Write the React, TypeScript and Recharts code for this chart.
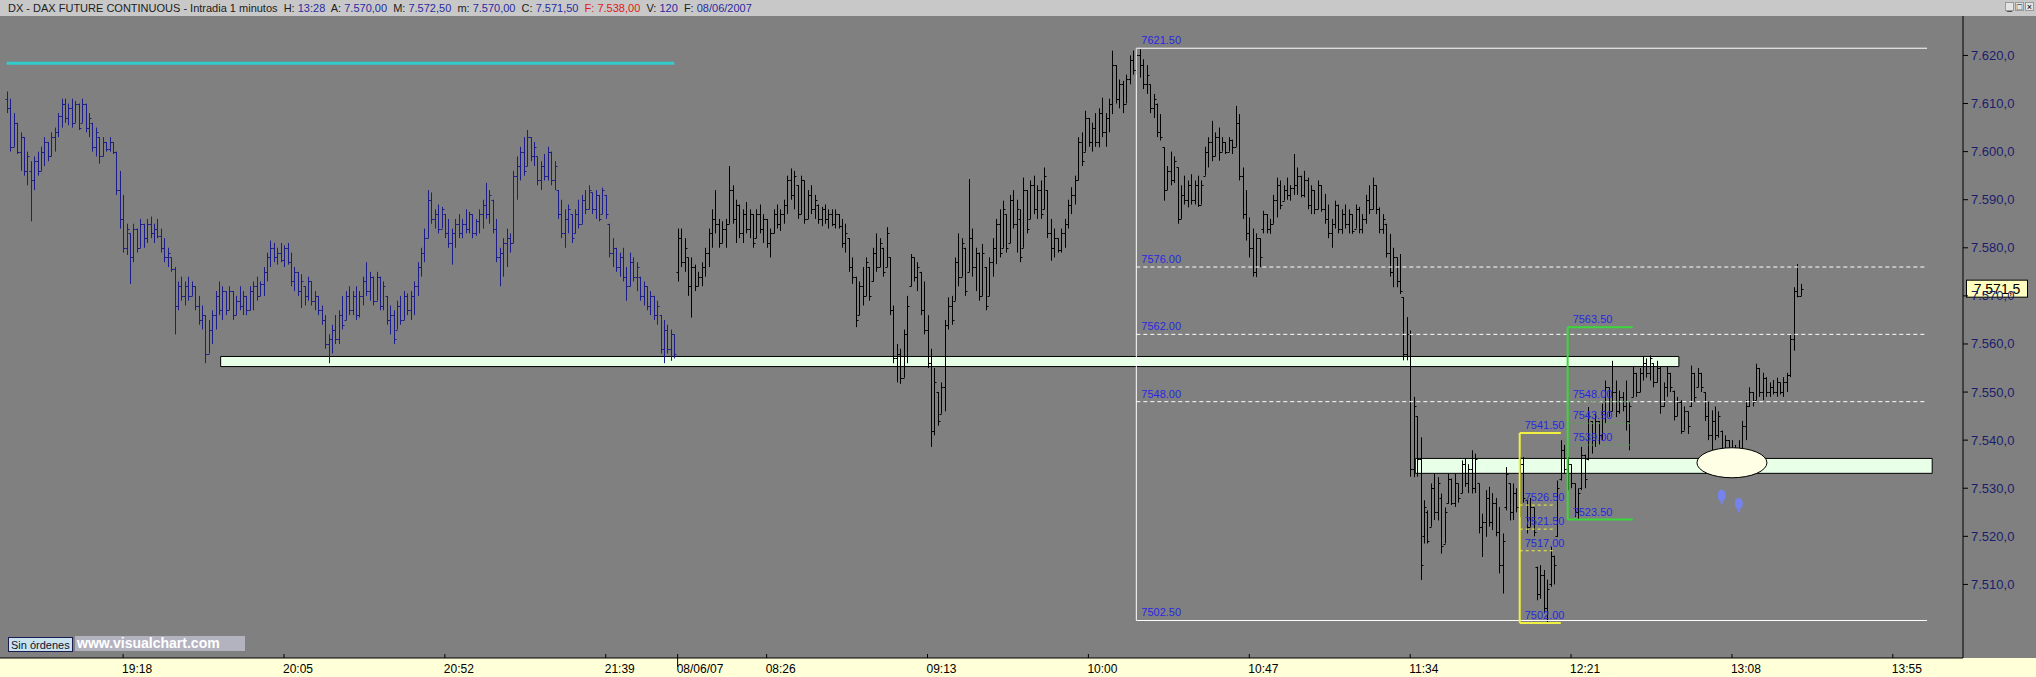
import React from 'react';
import {
  ComposedChart,
  Bar,
  XAxis,
  YAxis,
  ReferenceLine,
  ReferenceArea,
  ReferenceDot,
} from 'recharts';

type Ohlc = [number, number, number, number];

// 1-minute DAX future bars, points above BASE: [open, high, low, close]
const BASE = 7500;

// 07/06/07 evening session, first bar 18:44
const eveningStart = '18:44';
const eveningBars: Ohlc[] = [
  [111, 112.5, 108, 109], [109, 111, 100, 101], [101, 108, 101, 106], [106, 106, 99.5, 100], [100, 104, 96, 103],
  [103, 103, 95, 96], [96, 100, 93, 99], [96, 98, 85.5, 94], [94, 99, 92, 98], [98, 100, 95, 96],
  [96, 101, 96, 100], [100, 103, 97, 102], [102, 102, 98, 99], [99, 104, 99, 103], [103, 105, 100, 104],
  [104, 108, 103, 107.5], [107.5, 111, 105, 110], [110, 111, 106, 107], [107, 110, 105.5, 109], [109, 111, 105, 106],
  [106, 110.5, 106, 110], [110, 110, 104.5, 105], [106, 111, 106, 110], [110, 110, 104, 105], [105, 108, 103, 107],
  [106, 106, 100, 101], [101, 105, 99, 104], [103, 103, 97.5, 99], [99, 103, 99, 102], [102, 102, 100, 100.5],
  [100.5, 103, 100, 102], [102, 102, 99.5, 100], [100, 100, 91, 92], [92, 96, 84, 86], [86, 91, 79, 80],
  [80, 85, 78.5, 84], [83, 83, 72.5, 78], [78, 85, 77, 84], [84, 84, 79, 80], [80, 86, 80, 85],
  [85, 85, 80, 82], [82, 86, 81, 85], [85, 86.5, 82, 83], [83, 85, 81, 84], [84, 86, 82, 82.5],
  [82.5, 84, 79, 80], [80, 82, 77, 78], [78, 80, 76, 79], [78, 78, 75, 75.5], [75.5, 76, 62, 68],
  [68, 73, 67, 72], [72, 74, 69, 70], [70, 73, 68, 72], [72, 74, 69, 70], [70, 73, 70, 72],
  [72, 72, 67, 68], [68, 70, 64, 65], [65, 68, 63, 66], [66, 66, 56, 58], [58, 65, 58, 63],
  [63, 67, 60, 66], [66, 71, 63, 70], [70, 73, 66, 67], [67, 72, 65, 71], [71, 71, 66, 67],
  [67, 72, 67, 71], [71, 71, 65, 66], [66, 70, 66, 69], [69, 72, 67, 68], [68, 71, 66, 70],
  [70, 70, 66, 67], [67, 72, 67, 71], [71, 73, 67, 72], [72, 74, 69, 70], [70, 73, 70, 72.5],
  [72.5, 76, 70, 75], [75, 79, 73, 78], [78, 81.5, 76, 80], [80, 81, 77, 78], [78, 80, 76.5, 79],
  [79, 81, 77, 77.5], [77.5, 80.5, 76, 80], [80, 81, 76.5, 77], [77, 79, 72, 73], [73, 76, 71, 75],
  [75, 75, 70, 71], [71, 74.5, 67.5, 73], [72, 72, 68, 70], [70, 74, 69, 73], [73, 73, 68, 69],
  [69, 71, 67, 70], [70, 70, 66, 67], [67, 68, 64, 65], [65, 66, 59, 60], [60, 62, 56, 61],
  [61, 64, 58, 63], [63, 66, 60, 61], [61, 67, 60, 66], [66, 70, 63, 64], [65, 71, 65, 70],
  [70, 72, 66, 67], [67, 71, 66, 70], [70, 72, 65, 66], [66, 71, 65.5, 70], [70, 74, 68, 73],
  [73, 77, 70, 71], [71, 75, 69, 74], [74, 74, 68, 69], [69, 75, 69, 74], [74, 74, 67, 68],
  [68, 73, 67, 72], [70, 70, 64, 65], [65, 68, 62, 66], [66, 67, 60, 61], [63, 69, 63, 68],
  [68, 70, 64, 65], [65, 71, 65, 70], [70, 70.5, 66, 67], [67, 71, 65, 70], [70, 73, 66, 72],
  [72, 77, 70, 76], [76, 80, 74, 79], [79, 84, 77, 82], [82, 92, 82, 90], [90, 91.5, 85, 86],
  [86, 88, 84, 87], [87, 89, 83, 84], [84, 88.5, 84, 88], [87, 87, 82, 83], [83, 86, 80, 81],
  [81, 84, 76.5, 83], [83, 86, 80, 85], [85, 87, 82, 83], [83, 86, 82, 85], [85, 88, 83, 84],
  [84, 87.5, 83, 87], [87, 87, 82, 83], [83, 86, 82.5, 85.5], [85.5, 88, 83, 87], [87, 90, 84, 89],
  [89, 93.5, 86, 87], [87, 92, 85, 91], [90, 90, 83, 84], [84, 86, 77, 78], [78, 80, 72, 79],
  [79, 82, 74, 81], [81, 84, 76, 82], [82, 83, 79, 81], [81, 96, 81, 95], [95, 99, 90, 97],
  [97, 101, 94, 100], [100, 103, 95, 96], [97, 104.5, 97, 103], [103, 103, 98, 99], [99, 102, 97, 101],
  [99, 99, 93, 94], [94, 98, 92, 97], [97, 99.5, 94, 95], [95, 101, 94, 100], [100, 100, 93, 94],
  [94, 98, 92, 97], [92, 92, 86, 87], [87, 90, 82, 83], [83, 88, 80, 86], [86, 89, 83, 88],
  [87, 87, 81, 82], [83, 88, 83, 87], [87, 90, 84, 85], [85, 91, 85, 90], [90, 92, 87, 88],
  [88, 93, 88, 92], [91.5, 91.5, 87, 88], [88, 92, 86, 91], [91, 91, 85.5, 86], [87, 92.5, 87, 92],
  [91, 91, 86, 87], [85, 85, 78, 79], [79, 82, 76, 80], [80, 80, 75, 76], [76, 79, 74, 78],
  [78, 80, 73, 74], [74, 76, 69, 72], [72, 79, 72, 77], [77, 78, 73, 74], [74, 77, 71, 76],
  [74, 74, 69, 70], [70, 73, 68, 72], [72, 72, 67, 68], [68, 71, 66, 70], [70, 70, 65, 66],
  [66, 69, 64, 68], [66, 66, 58, 59], [59, 65, 56, 63], [63, 64, 58, 59], [59, 63, 56.5, 62],
  [62, 62, 57, 58],
];

// 08/06/07 day session, first bar 08:00, last 13:28
const morningStart = '08:00';
const morningBars: Ohlc[] = [
  [75, 84, 73, 82], [82, 84, 76, 77], [77, 82, 75, 80], [78, 78, 70, 72], [72, 78, 65.5, 76],
  [76, 76.5, 71, 72], [72, 75, 72, 74], [74, 77, 72, 76], [76, 80, 74, 79], [79, 84, 76, 83],
  [83, 88, 80, 86], [86, 92, 83, 85], [85, 86, 80, 81], [81, 85.5, 81, 84], [84, 86, 80, 85],
  [85, 97, 85, 92], [92, 93, 85, 86], [86, 90, 81, 89], [89, 89, 82, 83], [83, 88, 81, 87],
  [87, 89.5, 83, 84], [84, 88, 82, 87], [87, 87, 80, 81], [82, 88, 82, 87], [87, 89, 83, 84],
  [84, 87, 81, 86], [86, 86, 80, 81], [81, 84, 78, 83], [83, 88, 83, 87], [87, 89, 84, 85],
  [85, 88, 83.5, 87], [87, 90, 85, 89], [89, 95, 87, 94], [94, 96.5, 90, 91], [91, 96, 88, 95],
  [93, 93, 86, 87], [87, 95, 87, 94], [94, 94, 85, 86], [86, 92, 86, 91], [91, 93, 87, 88],
  [88, 91, 86, 90], [89, 89, 85, 86], [86, 88.5, 84.5, 88], [88, 89, 85, 86], [86, 88, 84, 87],
  [87, 88, 84.5, 85], [85, 88, 84, 87], [87, 87, 84, 84.5], [84.5, 86, 80, 81], [81, 85, 79, 83],
  [82, 82, 75, 76], [76, 78, 72.5, 74], [74, 74, 63.5, 65], [66, 73, 66, 72], [72, 76, 68, 70],
  [70, 78, 70, 77], [76, 76, 69, 70], [73, 80, 73, 79], [79, 83, 75, 76], [76, 82, 76, 81],
  [80, 80, 74, 75], [76, 84.3, 76, 83], [78, 78, 66, 67], [67, 68, 56, 57], [57, 60, 52, 58],
  [58, 59, 51.7, 53], [53, 63, 53, 62], [62, 70, 56, 68], [72, 78.7, 72, 78], [78, 78, 73, 74],
  [74, 77, 71, 76], [75, 75, 66, 67], [67, 73, 62, 63], [63, 66, 55, 56], [56, 59, 38.6, 42],
  [42, 55, 41, 52], [50, 50, 43, 44], [45.5, 52, 45.5, 51], [51, 65, 46, 64], [64, 69.7, 63, 68],
  [68, 70, 64, 65], [69, 78, 69, 77], [77, 83, 72, 74], [74, 82, 74, 81], [80, 80, 70, 71],
  [75, 94.3, 75, 82], [82, 84, 74, 76], [76, 80, 71, 79], [79, 79, 69, 70], [70, 80.8, 70, 79],
  [76, 76, 67, 68], [70, 78, 70, 77], [77, 82, 74, 80], [80, 86, 76.6, 85], [85, 88, 78, 79],
  [80, 89.8, 80, 88], [87, 87, 79, 80], [81, 91, 81, 90], [90, 92, 84, 85], [85, 90, 79, 88],
  [86, 88, 77, 78], [80, 94.6, 80, 92], [92, 92, 83, 84], [86, 94, 86, 93], [93, 95, 87, 88],
  [88, 93, 86, 92], [92, 94, 86, 87], [88, 96.7, 88, 95], [92, 92, 82, 83], [83, 86, 77.3, 80],
  [80, 84, 78, 82], [82, 82, 79, 79.5], [79.5, 84, 79, 83], [83, 86, 80, 85], [85, 90, 84, 89],
  [89, 92.6, 87, 91], [91, 95, 89, 94], [94, 103, 94, 102], [102, 104, 97, 98], [100, 108.5, 100, 107],
  [107, 107, 101, 102], [102, 106, 100, 105], [105, 108, 101, 102], [102, 109, 100.9, 108], [108, 111.2, 103, 104],
  [104, 108, 101, 107], [107, 111, 104, 110], [110, 121, 107.8, 118], [118, 118, 110, 111], [111, 115, 109, 114],
  [114, 114.7, 108, 110], [110, 116, 110, 115], [115, 120, 114, 119], [119, 121, 116, 117], [117, 121.5, 116, 120],
  [120, 121.3, 115.4, 118], [118, 119.2, 113, 114], [114, 118, 112, 116], [114, 114, 108, 109], [109, 112, 107, 111],
  [110, 110, 103, 104], [104, 107.8, 102.3, 103], [100.9, 100.9, 89.8, 92], [92, 97, 92, 96], [96, 100, 93, 94],
  [94, 99, 93.5, 98], [96.7, 96.7, 85, 86], [86, 93, 86, 91], [91, 95, 89, 90], [90, 94, 88.4, 93],
  [93, 95.3, 89, 90], [90, 94, 89, 93], [93, 95, 88.5, 89], [89, 94, 89, 93], [95, 101, 95, 100],
  [100, 103, 96.7, 102], [102, 106.4, 98, 99], [99, 104, 99, 103], [103, 105, 98.1, 100], [100, 103, 100, 102],
  [102, 102, 99.5, 100], [100, 103, 100, 102.5], [102.5, 102.5, 99.5, 101], [101, 109.5, 101, 106], [106, 107.8, 94, 95],
  [95, 96.7, 86, 87], [87, 92, 81.5, 83], [83, 86.3, 78, 80], [80, 84, 74, 75], [75, 83, 73.9, 82],
  [82, 82, 76, 78], [84, 87.7, 83, 87], [87, 87, 83, 84], [84, 86, 82.9, 85], [85, 91, 85, 90],
  [90, 94.6, 86.3, 93], [93, 94, 88, 89], [89.8, 93, 89.8, 92], [92, 94.6, 90, 91], [91, 93, 89.8, 92.5],
  [92.5, 99.5, 91, 93], [93, 96.7, 91, 95], [95, 95, 90.5, 91], [91, 96, 90.5, 94], [94, 94.6, 88, 89],
  [89, 93, 87, 92], [92, 92, 87, 88], [88, 94, 88, 93], [93, 93, 87.5, 88], [88, 91.2, 85, 86],
  [86, 89, 82, 83], [83, 86, 80, 85], [85, 89.8, 84, 89], [89, 89, 83, 84], [84, 88, 82.9, 87],
  [87, 89, 84, 85], [85, 88, 83, 87], [87, 87, 82.9, 83.5], [84, 89, 84, 88], [88, 88.5, 83, 84],
  [84, 87, 83, 86], [86, 91, 85, 90], [90, 93, 87, 88], [88, 94.6, 88, 93], [93, 93, 87, 88],
  [88, 88.4, 83, 84], [84, 87, 82.9, 86], [85, 85, 78, 79], [79, 82.9, 74, 75], [75, 80, 71.8, 78],
  [78, 78, 71.8, 73], [73, 78.7, 70.4, 71], [69.7, 69.7, 56.6, 58], [58, 65.6, 56.6, 62], [62, 62.8, 32.4, 34],
  [34, 49, 32.3, 47], [45, 45, 32.4, 36], [36, 40.6, 10.9, 14], [20, 27.5, 18.5, 26], [25, 25.4, 18.5, 19],
  [22, 31, 22, 30], [30, 33, 23.4, 25], [25, 32.3, 23.3, 31], [28, 28.9, 16.4, 18], [18.5, 26, 18.5, 25],
  [27, 33, 26.8, 32], [32, 32, 26.5, 27], [27, 33, 26.1, 31], [31, 31, 27, 28], [29, 35.8, 29, 35],
  [35, 36.2, 30.3, 31], [31, 35, 29, 34], [34, 37.9, 28.9, 30], [30, 37.2, 29, 36], [31, 31, 20.6, 22],
  [22, 24.7, 15.7, 23], [23, 29.6, 19.9, 28], [28, 30.3, 22, 23], [23, 29, 21.3, 27], [27, 28, 20, 21],
  [21, 26.1, 12.3, 14], [14, 20.6, 8.1, 19], [26, 34.4, 25.4, 33], [31, 31, 23.3, 25], [25, 31, 23.4, 29],
  [29, 30, 25, 26], [26, 36.5, 24, 35], [35, 36.5, 27, 28], [27.5, 27.5, 20.6, 22], [22, 28, 22, 26],
  [26, 26, 20, 21], [13.7, 13.7, 6.7, 8], [8, 14, 7, 12], [12, 13, 4, 5], [5, 11, 2, 9],
  [10, 17.8, 9.5, 16], [16, 16, 10, 14], [20, 31.6, 19.9, 30], [32, 40, 31.6, 38], [38, 39, 33, 34],
  [34, 36.5, 29.6, 35], [35, 35, 30, 31], [31, 31, 24, 25], [25, 30, 23.5, 29], [30, 38.6, 29.6, 37],
  [37, 37, 30, 32], [36, 46.9, 35.8, 45], [44, 44, 37.2, 40], [40, 45.5, 38.6, 44], [44, 44, 39, 41],
  [41, 47.6, 40, 46], [46, 52.4, 43.4, 51], [51, 51, 44.8, 46], [46, 56.5, 46, 50], [50, 52.4, 44.8, 46],
  [46, 50.3, 45.5, 49], [49, 50, 46, 47], [47, 52.4, 42, 44], [44, 48, 37.9, 47], [49, 55.2, 49, 54],
  [54, 54, 49, 50], [50, 55, 50, 54], [54, 57.3, 52.4, 56], [56, 57, 53, 54], [54, 57.6, 52.4, 57],
  [56, 56, 51, 52], [52, 56.5, 52, 55], [55, 55.2, 45.5, 47], [47, 52, 47, 51], [51, 55.2, 49, 54],
  [54, 54, 50, 51], [50.3, 50.3, 44.1, 45], [45, 49, 45, 48], [48, 48.3, 41.3, 42], [42, 47, 42, 46],
  [46, 46, 41.3, 43], [47, 55.5, 46.9, 54], [54, 54, 48, 49], [51, 55, 51, 54], [54, 54, 50, 51],
  [50, 50, 44, 45], [45, 48, 40, 41], [41, 46.2, 37.9, 44], [44, 47, 40, 41], [41, 46, 40.5, 45],
  [42, 42, 37.2, 38], [38, 41, 37.5, 40], [40, 40, 36.5, 37], [37, 40, 33, 34], [34, 39, 33, 38],
  [38, 40, 34.5, 36], [36, 44, 36, 43], [43, 48.3, 40, 47], [47, 51, 46.9, 50], [50, 50, 47, 48],
  [48.3, 55.9, 48.3, 55], [55, 55, 49, 50], [50, 54, 48.3, 53], [53, 53.1, 49, 50], [50, 52, 49, 51],
  [51, 52.5, 49.5, 50], [50, 53, 49, 52], [52, 52, 49.5, 50], [50, 53.1, 49, 52], [52, 54, 50, 53.5],
  [53.5, 62.1, 53.1, 61], [61, 71.8, 58.6, 71], [71, 76.6, 69.7, 70], [70, 72.5, 70, 71.5],
];

// empty minutes kept on the right of the last bar
const emptyMinutes = 47;

const xTickTimes = ['19:18', '20:05', '20:52', '21:39', '08:00', '08:26', '09:13', '10:00', '10:47', '11:34', '12:21', '13:08', '13:55'];
const xTickLabels = ['19:18', '20:05', '20:52', '21:39', '08/06/07', '08:26', '09:13', '10:00', '10:47', '11:34', '12:21', '13:08', '13:55'];
const yTicks = [7510, 7520, 7530, 7540, 7550, 7560, 7570, 7580, 7590, 7600, 7610, 7620];
const lastPrice = 7571.5;

// drawn studies
const whiteFib = { from: '10:14', to: '14:05', levels: [7621.5, 7576, 7562, 7548, 7502.5], labels: ['7621.50', '7576.00', '7562.00', '7548.00', '7502.50'] };
const yellowFib = { from: '12:06', to: '12:18', dashTo: '12:16', levels: [7541.5, 7526.5, 7521.5, 7517, 7502], labels: ['7541.50', '7526.50', '7521.50', '7517.00', '7502.00'] };
const greenFib = { from: '12:20', to: '12:39', levels: [7563.5, 7548, 7543.5, 7539, 7523.5], labels: ['7563.50', '7548.00', '7543.50', '7539.00', '7523.50'] };
const zones = [
  { x1: '19:47', x2: '12:52', y1: 7555.3, y2: 7557.4 },
  { x1: '11:36', x2: '14:06', y1: 7533.1, y2: 7536.2 },
];
const cyanLine = { from: '18:44', to: '21:59', y: 7618.4 };
const ellipseMark = { x: '13:08', y: 7535.3 };
const blueMarks = [
  { x: '13:05', y: 7528.5 },
  { x: '13:10', y: 7526.8 },
];

const headerParts: [string, string][] = [
  ['DX - DAX FUTURE CONTINUOUS - Intradia 1 minutos  H: ', '#202020'],
  ['13:28', '#2a2aa0'],
  ['  A: ', '#202020'],
  ['7.570,00', '#2a2aa0'],
  ['  M: ', '#202020'],
  ['7.572,50', '#2a2aa0'],
  ['  m: ', '#202020'],
  ['7.570,00', '#2a2aa0'],
  ['  C: ', '#202020'],
  ['7.571,50', '#2a2aa0'],
  ['  F: ', '#e01818'],
  ['7.538,00', '#e01818'],
  ['  V: ', '#202020'],
  ['120', '#2a2aa0'],
  ['  F: ', '#202020'],
  ['08/06/2007', '#2a2aa0'],
];

const toMin = (s: string) => parseInt(s.slice(0, 2), 10) * 60 + parseInt(s.slice(3), 10);
const hhmm = (m: number) => `${String(Math.floor(m / 60) % 24).padStart(2, '0')}:${String(m % 60).padStart(2, '0')}`;

const rows: any[] = [];
eveningBars.forEach(([o, h, l, c], i) => {
  rows.push({ t: hhmm(toMin(eveningStart) + i), o: BASE + o, h: BASE + h, l: BASE + l, c: BASE + c, s: 'eve' });
});
morningBars.forEach(([o, h, l, c], i) => {
  rows.push({ t: hhmm(toMin(morningStart) + i), o: BASE + o, h: BASE + h, l: BASE + l, c: BASE + c, s: 'day' });
});
for (let k = 0; k < emptyMinutes; k++) {
  rows.push({ t: hhmm(toMin(morningStart) + morningBars.length + k) });
}

const fmtPrice = (v: number, dec: number) => {
  const [int, frac] = v.toFixed(dec).split('.');
  return `${int.slice(0, -3)}.${int.slice(-3)},${frac}`;
};

const OhlcBar = (props: any) => {
  const { x, y, width, height, payload } = props;
  if (!payload || payload.h == null) return null;
  const top = Math.min(y, y + height);
  const bot = Math.max(y, y + height);
  const span = payload.h - payload.l;
  const py = (v: number) => Math.round(span === 0 ? top : top + ((payload.h - v) / span) * (bot - top)) + 0.5;
  const cx = Math.round(x + width / 2) + 0.5;
  const color = payload.s === 'eve' ? '#1c1c8a' : '#000000';
  return (
    <g stroke={color} strokeWidth={1}>
      <line x1={cx} x2={cx} y1={top} y2={Math.max(bot, top + 1)} />
      <line x1={cx - 2} x2={cx} y1={py(payload.o)} y2={py(payload.o)} />
      <line x1={cx} x2={cx + 2} y1={py(payload.c)} y2={py(payload.c)} />
    </g>
  );
};

const XTick = (props: any) => {
  const { x, y, payload } = props;
  const idx = xTickTimes.indexOf(payload.value);
  const label = idx >= 0 ? xTickLabels[idx] : payload.value;
  const isDay = label.includes('/');
  return (
    <g>
      <line x1={x} x2={x} y1={y - 4} y2={isDay ? y + 9 : y} stroke="#000" />
      <text x={x - 1} y={y + 15} fontSize={12} fontFamily="'Liberation Sans Narrow', Arial, sans-serif" fill="#000">
        {label}
      </text>
    </g>
  );
};

const YTick = (props: any) => {
  const { x, y, payload } = props;
  return (
    <g>
      <line x1={x} x2={x + 5} y1={y} y2={y} stroke="#000" />
      <text x={x + 8} y={y + 4.5} fontSize={13} fontFamily="Arial, 'Liberation Sans', sans-serif" fill="#1c1c6c">
        {fmtPrice(payload.value, 1)}
      </text>
    </g>
  );
};

const levelLabel = (text: string, color: string) => (p: any) => (
  <text x={p.cx + 5} y={p.cy - 4} fontSize={11} fontFamily="Arial, 'Liberation Sans', sans-serif" fill={color}>
    {text}
  </text>
);

const App: React.FC = () => {
  return (
    <div style={{ position: 'absolute', left: 0, top: 0, width: 2036, height: 677, background: '#808080', overflow: 'hidden' }}>
      <div style={{ position: 'absolute', left: 0, top: 658, width: 2036, height: 19, background: '#ffffd8' }} />
      <div
        style={{
          position: 'absolute', left: 0, top: 0, width: 2036, height: 16, background: '#c8c8c8',
          font: '11px Arial, "Liberation Sans", sans-serif', lineHeight: '16px', paddingLeft: 8, whiteSpace: 'pre', boxSizing: 'border-box',
        }}
      >
        {headerParts.map(([txt, col], i) => (
          <span key={i} style={{ color: col }}>{txt}</span>
        ))}
      </div>
      {['_', '□', '×'].map((g, i) => (
        <div
          key={g}
          style={{
            position: 'absolute', top: 2, left: 2005 + i * 10, width: 9, height: 9, background: '#e4e4e4',
            border: '1px solid #9a9a9a', font: '9px Arial', lineHeight: '8px', textAlign: 'center', color: '#000', boxSizing: 'border-box',
          }}
        >
          {g}
        </div>
      ))}
      <div
        style={{
          position: 'absolute', left: 8, top: 637, height: 15, padding: '0 2px', background: '#c9e3ee', border: '1px solid #1c1c50',
          font: '11px Arial, "Liberation Sans", sans-serif', lineHeight: '14px', color: '#101030', boxSizing: 'border-box',
        }}
      >
        Sin órdenes
      </div>
      <div
        style={{
          position: 'absolute', left: 75, top: 636, width: 170, height: 15, background: '#b3b3c0',
          font: 'bold 14px Arial, "Liberation Sans", sans-serif', lineHeight: '15px', color: '#ffffff', paddingLeft: 2, boxSizing: 'border-box',
        }}
      >
        www.visualchart.com
      </div>

      <ComposedChart
        width={2036}
        height={677}
        data={rows}
        margin={{ top: 16, right: 0, bottom: 0, left: 0 }}
        style={{ position: 'absolute', left: 0, top: 0 }}
        barCategoryGap="10%"
      >
        <XAxis
          dataKey="t"
          type="category"
          ticks={xTickTimes}
          interval={0}
          height={19}
          tickSize={0}
          tickMargin={0}
          tickLine={false}
          axisLine={{ stroke: '#000' }}
          padding={{ left: 5, right: 0 }}
          tick={<XTick />}
        />
        <YAxis
          orientation="right"
          width={73}
          type="number"
          domain={[7494.7, 7628.2]}
          allowDataOverflow
          ticks={yTicks}
          tickSize={0}
          tickMargin={0}
          tickLine={false}
          axisLine={{ stroke: '#000' }}
          tick={<YTick />}
        />

        {zones.map((z, i) => (
          <ReferenceArea key={`z${i}`} x1={z.x1} x2={z.x2} y1={z.y1} y2={z.y2} fill="#e8ffe8" fillOpacity={1} stroke="#000" strokeWidth={1} ifOverflow="visible" />
        ))}
        <ReferenceDot
          x={ellipseMark.x}
          y={ellipseMark.y}
          r={0}
          ifOverflow="visible"
          shape={(p: any) => <ellipse cx={p.cx} cy={p.cy} rx={35} ry={15} fill="#ffffe6" stroke="#000" strokeWidth={1} />}
        />

        <Bar dataKey={(d: any) => (d.h == null ? null : [d.l, d.h])} shape={<OhlcBar />} isAnimationActive={false} />

        <ReferenceLine
          segment={[{ x: cyanLine.from, y: cyanLine.y }, { x: cyanLine.to, y: cyanLine.y }]}
          stroke="#33cccc"
          strokeWidth={3}
        />

        {whiteFib.levels.map((lv, i) => (
          <ReferenceLine
            key={`w${i}`}
            segment={[{ x: whiteFib.from, y: lv }, { x: whiteFib.to, y: lv }]}
            stroke="#ffffff"
            strokeWidth={1}
            strokeDasharray={i === 0 || i === whiteFib.levels.length - 1 ? undefined : '4 3'}
          />
        ))}
        <ReferenceLine
          segment={[{ x: whiteFib.from, y: whiteFib.levels[0] }, { x: whiteFib.from, y: whiteFib.levels[whiteFib.levels.length - 1] }]}
          stroke="#ffffff"
          strokeWidth={1}
        />

        {yellowFib.levels.map((lv, i) => (
          <ReferenceLine
            key={`y${i}`}
            segment={[{ x: yellowFib.from, y: lv }, { x: i === 0 || i === 4 ? yellowFib.to : yellowFib.dashTo, y: lv }]}
            stroke="#f0f040"
            strokeWidth={i === 0 || i === 4 ? 2 : 1}
            strokeDasharray={i === 0 || i === 4 ? undefined : '3 3'}
          />
        ))}
        <ReferenceLine
          segment={[{ x: yellowFib.from, y: yellowFib.levels[0] }, { x: yellowFib.from, y: yellowFib.levels[4] }]}
          stroke="#f0f040"
          strokeWidth={2}
        />

        {greenFib.levels.map((lv, i) => (
          <ReferenceLine
            key={`g${i}`}
            segment={[{ x: greenFib.from, y: lv }, { x: greenFib.to, y: lv }]}
            stroke={i === 0 || i === 4 ? '#3ad83a' : '#5a9a5a'}
            strokeWidth={i === 0 || i === 4 ? 2 : 1}
            strokeDasharray={i === 0 || i === 4 ? undefined : '3 3'}
          />
        ))}
        <ReferenceLine
          segment={[{ x: greenFib.from, y: greenFib.levels[0] }, { x: greenFib.from, y: greenFib.levels[4] }]}
          stroke="#3ad83a"
          strokeWidth={2}
        />

        {whiteFib.levels.map((lv, i) => (
          <ReferenceDot key={`wl${i}`} x={whiteFib.from} y={lv} r={0} ifOverflow="visible" shape={levelLabel(whiteFib.labels[i], '#2828e0')} />
        ))}
        {yellowFib.levels.map((lv, i) => (
          <ReferenceDot key={`yl${i}`} x={yellowFib.from} y={lv} r={0} ifOverflow="visible" shape={levelLabel(yellowFib.labels[i], '#2828e0')} />
        ))}
        {greenFib.levels.map((lv, i) => (
          <ReferenceDot key={`gl${i}`} x={greenFib.from} y={lv} r={0} ifOverflow="visible" shape={levelLabel(greenFib.labels[i], '#2828e0')} />
        ))}

        {blueMarks.map((m, i) => (
          <ReferenceDot
            key={`b${i}`}
            x={m.x}
            y={m.y}
            r={0}
            ifOverflow="visible"
            shape={(p: any) => (
              <g fill="#7384ff" fillOpacity={0.85}>
                <ellipse cx={p.cx} cy={p.cy} rx={4} ry={6} />
                <rect x={p.cx - 1} y={p.cy + 4} width={2} height={5} />
              </g>
            )}
          />
        ))}

        <ReferenceDot
          x={rows[rows.length - 1].t}
          y={lastPrice}
          r={0}
          ifOverflow="visible"
          shape={(p: any) => (
            <g>
              <rect x={1966.5} y={p.cy - 8.5} width={61} height={17} fill="#ffffc0" stroke="#000" />
              <text x={1997} y={p.cy + 5} textAnchor="middle" fontSize={14} fontFamily="Arial, 'Liberation Sans', sans-serif" fill="#000">
                {fmtPrice(lastPrice, 1)}
              </text>
            </g>
          )}
        />
      </ComposedChart>
    </div>
  );
};

export default App;
